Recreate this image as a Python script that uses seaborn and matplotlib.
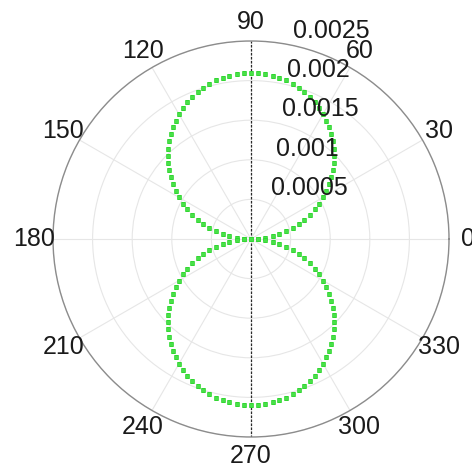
import numpy as np
import pandas as pd
import matplotlib
matplotlib.use("Agg")
import matplotlib.pyplot as plt
import seaborn as sns

sns.set_theme(style="white")
plt.rcParams["font.family"] = ["Liberation Sans", "DejaVu Sans"]

# sample angles (degrees) and radiation-pattern radii (units of 1e-3)
angle_deg = np.arange(0, 360, 2.5)
radius_upper = [
    0.000, 0.0916, 0.1830, 0.2741, 0.3647, 0.4545, 0.5435, 0.6315, 0.7182,
    0.8036, 0.8875, 0.9697, 1.0500, 1.1283, 1.2045, 1.2784, 1.3499, 1.4187,
    1.4849, 1.5483, 1.6087, 1.6660, 1.7202, 1.7711, 1.8187, 1.8627, 1.9033,
    1.9401, 1.9733, 2.0028, 2.0285, 2.0502, 2.0681, 2.0820, 2.0920, 2.0980,
    2.1000,
    2.0980, 2.0920, 2.0820, 2.0681, 2.0502, 2.0285, 2.0028, 1.9733, 1.9401,
    1.9033, 1.8627, 1.8187, 1.7711, 1.7202, 1.6660, 1.6087, 1.5483, 1.4849,
    1.4187, 1.3499, 1.2784, 1.2045, 1.1283, 1.0500, 0.9697, 0.8875, 0.8036,
    0.7182, 0.6315, 0.5435, 0.4545, 0.3647, 0.2741, 0.1830, 0.0916,
]
radius_lower = [
    0.000, 0.0916, 0.1830, 0.2741, 0.3647, 0.4545, 0.5435, 0.6315, 0.7182,
    0.8036, 0.8875, 0.9697, 1.0500, 1.1283, 1.2045, 1.2784, 1.3499, 1.4187,
    1.4849, 1.5483, 1.6087, 1.6660, 1.7202, 1.7711, 1.8187, 1.8627, 1.9033,
    1.9401, 1.9733, 2.0028, 2.0285, 2.0502, 2.0681, 2.0820, 2.0920, 2.0980,
    2.1000,
    2.0980, 2.0920, 2.0820, 2.0681, 2.0502, 2.0285, 2.0028, 1.9733, 1.9401,
    1.9033, 1.8627, 1.8187, 1.7711, 1.7202, 1.6660, 1.6087, 1.5483, 1.4849,
    1.4187, 1.3499, 1.2784, 1.2045, 1.1283, 1.0500, 0.9697, 0.8875, 0.8036,
    0.7182, 0.6315, 0.5435, 0.4545, 0.3647, 0.2741, 0.1830, 0.0916,
]
ring_values = [0.0005, 0.001, 0.0015, 0.002, 0.0025]
ring_labels = ["0.0005", "0.001", "0.0015", "0.002", "0.0025"]
spoke_angles = [0, 30, 60, 90, 120, 150, 180, 210, 240, 270, 300, 330]
spoke_labels = ["0", "30", "60", "90", "120", "150", "180", "210", "240",
                "270", "300", "330"]

r_max = ring_values[-1]
df = pd.DataFrame({
    "theta": np.deg2rad(angle_deg),
    "r": np.array(radius_upper + radius_lower) * 1e-3,
})

fig = plt.figure(figsize=(4.72, 4.70), dpi=100)
ax = fig.add_axes([0.1123, 0.0702, 0.839, 0.8426], projection="polar")
ax.set_ylim(0, r_max)
ax.set_yticks(ring_values)
ax.set_yticklabels([])
ax.set_xticks(np.deg2rad(spoke_angles))
ax.set_xticklabels([])
ax.grid(True, color="#e6e6e6", linewidth=0.8)
ax.spines["polar"].set_color("#8c8c8c")
ax.spines["polar"].set_linewidth(1.0)

# dashed vertical reference axis through the origin
for a in (90, 270):
    ax.plot([np.deg2rad(a), np.deg2rad(a)], [0, r_max], color="#2a2a2a",
            linestyle=(0, (2.0, 1.2)), linewidth=0.9, zorder=2)

sns.scatterplot(data=df, x="theta", y="r", ax=ax, marker="s", s=7,
                color="#48e048", edgecolor="#33d633", linewidth=0.5,
                legend=False, zorder=3)
ax.set_xlabel("")
ax.set_ylabel("")

for a, lab in zip(spoke_angles, spoke_labels):
    ax.text(np.deg2rad(a), r_max * 1.095, lab, ha="center", va="center",
            fontsize=18, color="#1a1a1a", clip_on=False)
for v, lab in zip(ring_values, ring_labels):
    ax.text(np.deg2rad(82), v, "  " + lab, ha="left", va="bottom",
            fontsize=18, color="#1a1a1a", clip_on=False, zorder=4)

fig.savefig("out.png", dpi=100)
